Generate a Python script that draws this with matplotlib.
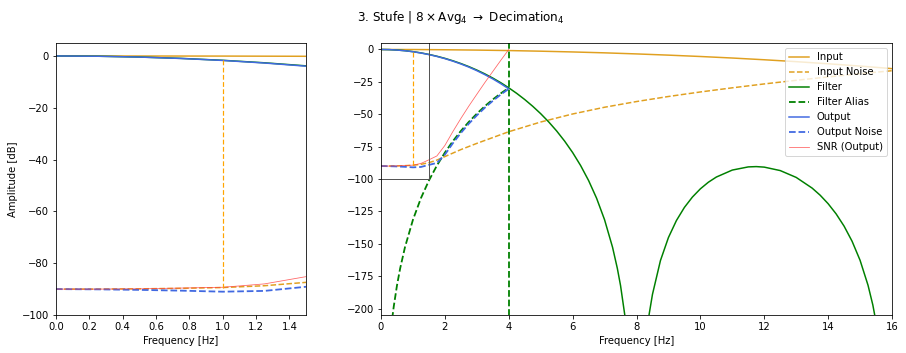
import numpy as np
import matplotlib
matplotlib.use("Agg")
import matplotlib.pyplot as plt

# frequency grids [Hz] and levels [dB]
f_input = [0, 1, 2, 3, 4, 5, 6, 7, 8, 9, 10, 11, 12, 13, 14, 15, 16]
input_db = [0, -0.05, -0.21, -0.47, -0.84, -1.32, -1.91, -2.6, -3.43, -4.37,
            -5.42, -6.6, -7.94, -9.4, -11.04, -12.8, -14.79]

f_noise = [0, 0.25, 0.5, 0.75, 1.0, 1.25, 1.5, 1.75, 2.0, 2.5, 3.0, 3.5, 4.0,
           5, 6, 7, 8, 9, 10, 11, 12, 13, 14, 15, 16]
input_noise_db = [-90.0, -90.0, -89.9, -89.7, -89.4, -88.7, -87.4, -85.4, -82.7,
                  -77.3, -72.5, -68.0, -63.5, -56.0, -49.8, -44.6, -40.2, -36.3,
                  -32.8, -29.6, -26.6, -23.8, -21.2, -18.7, -16.4]

f_filter = [0, 0.25, 0.5, 0.75, 1.0, 1.25, 1.5, 1.75, 2.0, 2.25, 2.5, 2.75, 3.0,
            3.25, 3.5, 3.75, 4.0, 4.25, 4.5, 4.75, 5.0, 5.25, 5.5, 5.75, 6.0,
            6.25, 6.5, 6.75, 7.0, 7.25, 7.4, 7.5, 7.65, 8.35, 8.4, 8.5, 8.75,
            9.0, 9.25, 9.5, 9.75, 10.0, 10.25, 10.5, 11.0, 11.5, 11.75, 12.0,
            12.5, 13.0, 13.5, 13.75, 14.0, 14.25, 14.5, 14.75, 15.0, 15.25,
            15.4, 15.55]
filter_db = [0, -0.1, -0.42, -0.94, -1.68, -2.64, -3.82, -5.22, -6.85, -8.73,
             -10.85, -13.23, -15.88, -18.83, -22.07, -25.65, -29.59, -33.9,
             -38.64, -43.84, -49.57, -55.9, -62.92, -70.76, -79.57, -89.6,
             -101.18, -114.83, -131.46, -152.7, -169.0, -182.2, -207.9, -212.7,
             -203.8, -189.06, -162.95, -145.19, -132.06, -121.94, -113.96,
             -107.59, -102.5, -98.49, -93.1, -90.66, -90.43, -90.83, -93.49,
             -98.77, -107.04, -112.5, -119.06, -126.92, -136.41, -148.06,
             -162.74, -182.09, -197.3, -217.1]

f_alias = [0.35, 0.4, 0.5, 0.6, 0.75, 1.0, 1.25, 1.5, 1.75, 2.0, 2.25, 2.5,
           2.75, 3.0, 3.25, 3.5, 3.75, 4.0]
alias_db = [-207.9, -198.3, -182.2, -169.0, -152.7, -131.5, -114.8, -101.2,
            -89.6, -79.6, -70.8, -62.9, -55.9, -49.6, -43.8, -38.6, -33.9, -29.6]

f_out = [0, 0.25, 0.5, 0.75, 1.0, 1.25, 1.5, 1.75, 2.0, 2.25, 2.5, 2.75, 3.0,
         3.25, 3.5, 3.75, 4.0]
output_db = [0, -0.11, -0.43, -0.97, -1.73, -2.72, -3.94, -5.38, -7.06, -9.0,
             -11.18, -13.6, -16.35, -19.4, -22.7, -26.4, -30.4]
output_noise_db = [-90.0, -90.1, -90.3, -90.6, -91.0, -90.7, -89.1, -87.6,
                   -81.2, -72.4, -64.5, -57.3, -50.9, -45.0, -39.7, -34.8, -30.4]
snr_db = [-90.0, -90.0, -89.9, -89.6, -89.3, -88.0, -85.2, -82.2, -74.1, -63.4,
          -53.3, -43.7, -34.6, -25.6, -17.0, -8.4, 0.0]

# markers
signal_freq = 1.0
signal_top = -1.73
signal_bottom = -89.4
band_edge = 1.5
snr_level = -100
nyquist_out = 4.0
y_top = 5

c_in = '#e0a020'
c_filt = 'green'
c_out = 'royalblue'
c_snr = '#ff4040'

DPI = 72
fig = plt.figure(figsize=(906 / DPI, 353 / DPI), dpi=DPI)
ax1 = fig.add_axes([56 / 906, 38 / 353, 250 / 906, 272 / 353])
ax2 = fig.add_axes([381 / 906, 38 / 353, 511 / 906, 272 / 353])

for ax in (ax1, ax2):
    ax.plot(f_input, input_db, color=c_in, lw=1.5, label='Input')
    ax.plot(f_noise, input_noise_db, color=c_in, lw=1.5, ls='--', label='Input Noise')
    ax.plot(f_filter, filter_db, color=c_filt, lw=1.5, label='Filter')
    ax.plot(f_alias, alias_db, color=c_filt, lw=1.8, ls='--', label='Filter Alias')
    ax.plot(f_out, output_db, color=c_out, lw=1.5, label='Output')
    ax.plot(f_out, output_noise_db, color=c_out, lw=1.8, ls='--', label='Output Noise')
    ax.plot(f_out, snr_db, color=c_snr, lw=0.8, alpha=0.8, label='SNR (Output)')
    ax.plot([nyquist_out, nyquist_out], [-300, y_top], color=c_filt, lw=1.8, ls='--')
    ax.plot([signal_freq, signal_freq], [signal_bottom, signal_top],
            color='orange', lw=1.2, ls=(0, (4, 2)))
    ax.plot([0, band_edge, band_edge], [snr_level, snr_level, y_top],
            color='#555555', lw=1)
    ax.set_xlabel('Frequency [Hz]')

ax1.set_xlim(0, 1.5)
ax1.set_ylim(-100, y_top)
ax1.set_ylabel('Amplitude [dB]')

ax2.set_xlim(0, 16)
ax2.set_ylim(-205, y_top)
ax2.set_xticks(np.arange(0, 17, 2))
ax2.legend(loc='upper right')

fig.suptitle(r'3. Stufe | $8 \times \mathrm{Avg}_4$ $\rightarrow$ $\mathrm{Decimation}_4$',
             x=0.508, y=0.975)

fig.savefig('out.png', dpi=DPI)
